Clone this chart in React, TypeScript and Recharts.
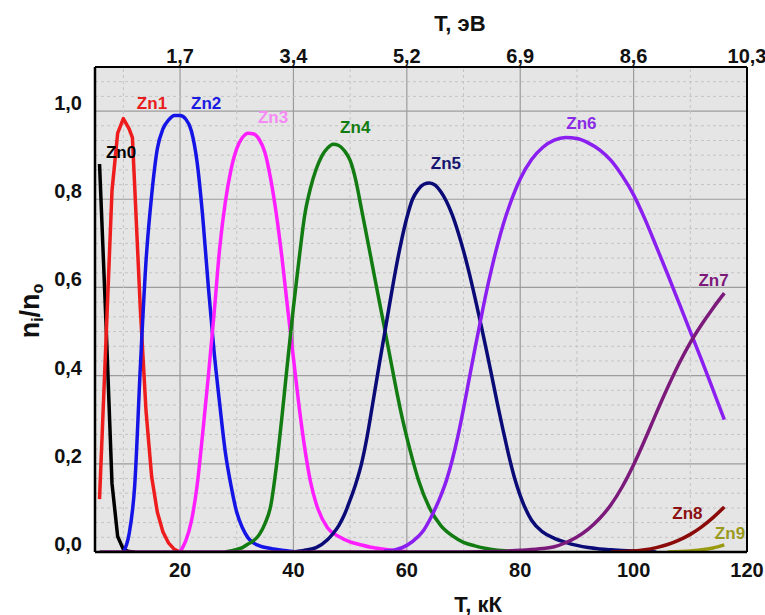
import React from "react";
import { CartesianGrid, Label, Line, LineChart, ReferenceDot, ReferenceLine, XAxis, YAxis } from "recharts";

// axis ticks
const T_TICKS = [20, 40, 60, 80, 100, 120];
const EV_LABELS = ["1,7", "3,4", "5,2", "6,9", "8,6", "10,3"];
const N_TICKS = [0, 0.2, 0.4, 0.6, 0.8, 1.0];

// ion fractions n_i/n_o, T in kK
const T_ZN0 = [5.8, 7, 8, 9, 10, 11, 12];
const N_ZN0 = [0.88, 0.5, 0.155, 0.035, 0.006, 0.001, 0];

const T_ZN1 = [5.8, 7, 8, 9, 10, 11, 11.6, 12, 13, 14, 15, 16, 17, 18, 19, 20];
const N_ZN1 = [0.12, 0.5, 0.82, 0.95, 0.983, 0.96, 0.94, 0.83, 0.55, 0.32, 0.17, 0.09, 0.045, 0.02, 0.006, 0];

const T_ZN2 = [10, 11, 12, 13, 14, 15, 16, 17, 18, 19, 20, 21, 22, 23, 24, 25, 26, 27, 28, 29, 30, 31, 32, 33, 34, 36, 38, 40];
const N_ZN2 = [0, 0.04, 0.15, 0.42, 0.66, 0.81, 0.915, 0.96, 0.98, 0.99, 0.99, 0.982, 0.955, 0.885, 0.76, 0.6, 0.455, 0.335, 0.225, 0.15, 0.09, 0.055, 0.032, 0.02, 0.014, 0.008, 0.004, 0.001];

const T_ZN3 = [20, 21, 22, 23, 24, 25, 26, 27, 28, 29, 30, 31, 32, 33, 34, 35, 36, 37, 38, 39, 40, 41, 42, 43, 44, 46, 48, 50, 52, 54, 56, 58, 60];
const N_ZN3 = [0, 0.025, 0.07, 0.15, 0.27, 0.4, 0.54, 0.69, 0.795, 0.868, 0.915, 0.94, 0.95, 0.948, 0.935, 0.905, 0.845, 0.765, 0.665, 0.55, 0.44, 0.33, 0.235, 0.16, 0.11, 0.055, 0.035, 0.023, 0.016, 0.01, 0.006, 0.003, 0.001];

const T_ZN4 = [28, 30, 31, 32, 33, 34, 35, 36, 37, 38, 39, 40, 41, 42, 43, 44, 45, 46, 47, 48, 49, 50, 51, 52, 53, 54, 55, 56, 57, 58, 59, 60, 61, 62, 64, 66, 68, 70, 72, 74, 76, 78, 80];
const N_ZN4 = [0, 0.006, 0.01, 0.018, 0.026, 0.04, 0.065, 0.105, 0.195, 0.31, 0.435, 0.555, 0.665, 0.765, 0.825, 0.868, 0.898, 0.916, 0.925, 0.922, 0.91, 0.888, 0.843, 0.778, 0.712, 0.645, 0.578, 0.512, 0.445, 0.378, 0.315, 0.26, 0.21, 0.165, 0.1, 0.06, 0.037, 0.022, 0.014, 0.008, 0.004, 0.002, 0];

const T_ZN5 = [40, 42, 44, 46, 47, 48, 49, 50, 51, 52, 53, 54, 55, 56, 57, 58, 59, 60, 61, 62, 63, 64, 65, 66, 67, 68, 69, 70, 71, 72, 73, 74, 75, 76, 77, 78, 79, 80, 82, 84, 86, 88, 90, 92, 94, 96, 100, 104];
const N_ZN5 = [0, 0.004, 0.01, 0.028, 0.042, 0.06, 0.085, 0.118, 0.155, 0.2, 0.262, 0.338, 0.415, 0.49, 0.565, 0.638, 0.703, 0.758, 0.8, 0.822, 0.834, 0.837, 0.832, 0.817, 0.795, 0.765, 0.727, 0.683, 0.633, 0.578, 0.52, 0.46, 0.398, 0.335, 0.275, 0.218, 0.168, 0.128, 0.072, 0.045, 0.031, 0.022, 0.015, 0.01, 0.007, 0.005, 0.002, 0];

const T_ZN6 = [56, 58, 60, 62, 63, 64, 65, 66, 67, 68, 69, 70, 71, 72, 73, 74, 75, 76, 77, 78, 80, 82, 84, 86, 88, 90, 92, 94, 96, 98, 100, 102, 104, 106, 108, 110, 112, 114, 116];
const N_ZN6 = [0.002, 0.005, 0.015, 0.035, 0.05, 0.072, 0.098, 0.128, 0.163, 0.208, 0.262, 0.325, 0.393, 0.46, 0.525, 0.588, 0.645, 0.697, 0.743, 0.782, 0.846, 0.89, 0.918, 0.934, 0.94, 0.938, 0.928, 0.912, 0.888, 0.853, 0.81, 0.755, 0.693, 0.63, 0.565, 0.5, 0.435, 0.368, 0.3];

const T_ZN7 = [5.8, 70, 76, 80, 84, 86, 88, 90, 92, 94, 96, 98, 100, 102, 104, 106, 108, 110, 112, 114, 116];
const N_ZN7 = [0, 0, 0.001, 0.004, 0.008, 0.012, 0.021, 0.034, 0.052, 0.076, 0.107, 0.148, 0.198, 0.255, 0.315, 0.373, 0.427, 0.475, 0.516, 0.553, 0.587];

const T_ZN8 = [96, 100, 102, 104, 106, 108, 110, 112, 114, 116];
const N_ZN8 = [0, 0.002, 0.005, 0.01, 0.017, 0.027, 0.04, 0.057, 0.078, 0.102];

const T_ZN9 = [106, 110, 112, 114, 116];
const N_ZN9 = [0, 0.002, 0.005, 0.009, 0.016];

// label anchors (T in kK, n_i/n_o)
const LABEL_T = [9.6, 15.05, 24.6, 36.4, 50.9, 66.9, 90.8, 114.1, 109.5, 117];
const LABEL_N = [0.907, 1.018, 1.018, 0.986, 0.964, 0.882, 0.973, 0.617, 0.088, 0.043];

const FONT = '"Liberation Sans", Arial, sans-serif';

const toPoints = (t: number[], n: number[]) => t.map((x, i) => ({ t: x, n: n[i] }));

const series = [
  { name: "Zn0", data: toPoints(T_ZN0, N_ZN0), color: "#000000", curve: "linear" },
  { name: "Zn1", data: toPoints(T_ZN1, N_ZN1), color: "#ee1c1c", curve: "linear" },
  { name: "Zn2", data: toPoints(T_ZN2, N_ZN2), color: "#1414e6", curve: "monotone" },
  { name: "Zn3", data: toPoints(T_ZN3, N_ZN3), color: "#ff1eff", curve: "monotone" },
  { name: "Zn4", data: toPoints(T_ZN4, N_ZN4), color: "#127c12", curve: "monotone" },
  { name: "Zn5", data: toPoints(T_ZN5, N_ZN5), color: "#0b0b78", curve: "monotone" },
  { name: "Zn6", data: toPoints(T_ZN6, N_ZN6), color: "#8a1ff0", curve: "monotone" },
  { name: "Zn8", data: toPoints(T_ZN8, N_ZN8), color: "#8b0a0a", curve: "monotone" },
  { name: "Zn9", data: toPoints(T_ZN9, N_ZN9), color: "#9a9a10", curve: "monotone" },
  { name: "Zn7", data: toPoints(T_ZN7, N_ZN7), color: "#7c1a7c", curve: "monotone" },
];

const labelColors = ["#000000", "#e81c1c", "#1a1ae0", "#f58af5", "#127c12", "#151570", "#8a2ae6", "#7c1a7c", "#8b1010", "#9a9a20"];

// minor grid: every 10 kK and every 1/30 on the fraction axis
const minorT = [10, 30, 50, 70, 90, 110];
const minorN: number[] = [];
for (let k = 1; k <= 33; k++) if (k % 6 !== 0) minorN.push(k / 30);

const textStyle = { fontFamily: FONT, fontWeight: "bold" as const, fill: "#111" };

function BottomTick({ x, y, payload }: any) {
  return (
    <text x={x} y={y + 18} textAnchor="middle" dominantBaseline="central" fontSize={20} {...textStyle}>
      {payload.value}
    </text>
  );
}

function TopTick({ x, y, payload }: any) {
  return (
    <text x={x} y={y - 11} textAnchor="middle" dominantBaseline="central" fontSize={20} {...textStyle}>
      {EV_LABELS[T_TICKS.indexOf(payload.value)]}
    </text>
  );
}

function LeftTick({ x, y, payload }: any) {
  return (
    <text x={x - 13} y={y - 8} textAnchor="end" dominantBaseline="central" fontSize={20} {...textStyle}>
      {payload.value.toFixed(1).replace(".", ",")}
    </text>
  );
}

export default function App() {
  return (
    <div style={{ position: "absolute", left: 0, top: 0, width: 765, height: 615, background: "#fff" }}>
      <LineChart width={765} height={615} margin={{ top: 0, right: 18, bottom: 0, left: 0 }}>
        <CartesianGrid stroke="#9c9c9c" strokeWidth={1.2} fill="#e5e5e5" fillOpacity={1} />
        {minorT.map((t) => (
          <ReferenceLine key={"vt" + t} x={t} stroke="#c4c4c4" strokeDasharray="3 3" />
        ))}
        {minorN.map((n) => (
          <ReferenceLine key={"hn" + n} y={n} stroke="#c4c4c4" strokeDasharray="3 3" />
        ))}
        <XAxis
          dataKey="t"
          type="number"
          domain={[5, 120]}
          ticks={T_TICKS}
          allowDataOverflow
          height={63}
          tickLine={false}
          tickSize={0}
          tickMargin={0}
          axisLine={{ stroke: "#000", strokeWidth: 2.5 }}
          tick={<BottomTick />}
          label={
            <Label
              content={() => (
                <text x={478} y={604} textAnchor="middle" dominantBaseline="central" fontSize={22} {...textStyle}>
                  T, кК
                </text>
              )}
            />
          }
        />
        <XAxis
          xAxisId="top"
          orientation="top"
          dataKey="t"
          type="number"
          domain={[5, 120]}
          ticks={T_TICKS}
          allowDataOverflow
          height={67}
          tickLine={false}
          tickSize={0}
          tickMargin={0}
          axisLine={{ stroke: "#000", strokeWidth: 2 }}
          tick={<TopTick />}
          label={
            <Label
              content={() => (
                <text x={460} y={23} textAnchor="middle" dominantBaseline="central" fontSize={22} {...textStyle}>
                  T, эВ
                </text>
              )}
            />
          }
        />
        <YAxis
          type="number"
          domain={[0, 1.1]}
          ticks={N_TICKS}
          allowDataOverflow
          width={95}
          tickLine={false}
          tickSize={0}
          tickMargin={0}
          axisLine={{ stroke: "#000", strokeWidth: 2.5 }}
          tick={<LeftTick />}
          label={
            <Label
              content={() => (
                <text transform="translate(30, 311) rotate(-90)" textAnchor="middle" dominantBaseline="central" fontSize={27} {...textStyle}>
                  <tspan>n</tspan>
                  <tspan dy={7} fontSize={16}>i</tspan>
                  <tspan dy={-7}>/n</tspan>
                  <tspan dy={7} fontSize={16}>o</tspan>
                </text>
              )}
            />
          }
        />
        <ReferenceLine x={120} stroke="#000" strokeWidth={2} />
        {series.map((s) => (
          <Line
            key={s.name}
            data={s.data}
            dataKey="n"
            name={s.name}
            type={s.curve as any}
            stroke={s.color}
            strokeWidth={3.5}
            strokeLinejoin="round"
            dot={false}
            activeDot={false}
            isAnimationActive={false}
          />
        ))}
        {LABEL_T.map((t, i) => (
          <ReferenceDot
            key={"lbl" + i}
            x={t}
            y={LABEL_N[i]}
            r={0}
            fill="none"
            stroke="none"
            label={{
              value: "Zn" + i,
              position: "center",
              fill: labelColors[i],
              fontSize: 17,
              fontWeight: "bold",
              fontFamily: FONT,
            }}
          />
        ))}
      </LineChart>
    </div>
  );
}
